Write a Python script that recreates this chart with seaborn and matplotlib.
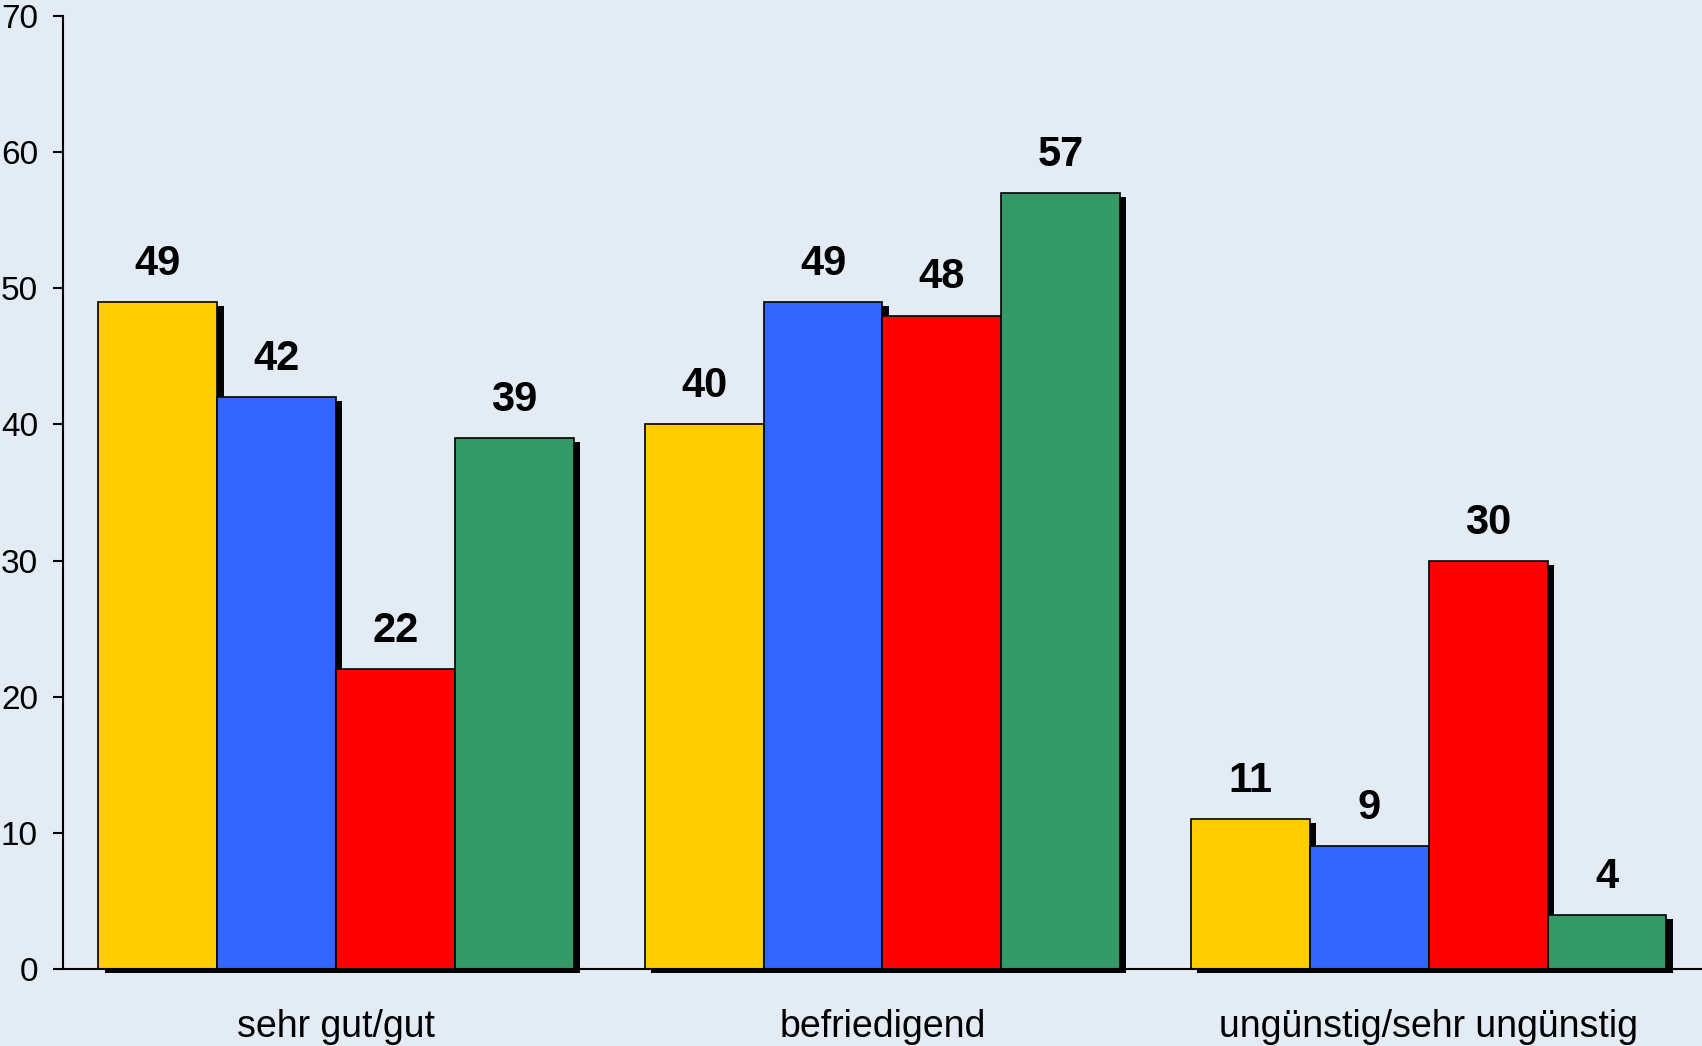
import pandas as pd
import seaborn as sns
import matplotlib.pyplot as plt
import matplotlib.patheffects as pe

categories = ["sehr gut/gut", "befriedigend", "ungünstig/sehr ungünstig"]
series = ["Gruppe 1", "Gruppe 2", "Gruppe 3", "Gruppe 4"]
values = {
    "Gruppe 1": [49, 40, 11],
    "Gruppe 2": [42, 49, 9],
    "Gruppe 3": [22, 48, 30],
    "Gruppe 4": [39, 57, 4],
}
colors = ["#FFCC00", "#3366FF", "#FF0000", "#339966"]
yticks = [0, 10, 20, 30, 40, 50, 60, 70]

rows = []
for s in series:
    for c, v in zip(categories, values[s]):
        rows.append({"Kategorie": c, "Serie": s, "Wert": v})
df = pd.DataFrame(rows)

sns.set_style("white")
plt.rcParams['font.family'] = ['Liberation Sans', 'DejaVu Sans']
plt.rcParams['text.color'] = 'black'
plt.rcParams['xtick.color'] = 'black'
plt.rcParams['ytick.color'] = 'black'
plt.rcParams['axes.edgecolor'] = 'black'

bg = "#E3EBF4"
fig = plt.figure(figsize=(17.02, 10.46), dpi=100, facecolor=bg)
ax = fig.add_axes([0.037, 0.0736, 0.963, 0.9111])
ax.set_facecolor(bg)

sns.barplot(data=df, x="Kategorie", y="Wert", hue="Serie", palette=colors,
            width=0.87, gap=0, edgecolor="black", linewidth=1.2,
            saturation=1, legend=False, ax=ax)

shadow = [pe.SimplePatchShadow(offset=(4.5, -3), shadow_rgbFace="black", alpha=1), pe.Normal()]
for p in ax.patches:
    p.set_clip_on(False)
    p.set_path_effects(shadow)

for cont in ax.containers:
    ax.bar_label(cont, padding=13, fontsize=30, fontweight="bold", color="black")

ax.set_ylim(0, 70)
ax.set_xlim(-0.5, 2.5)
ax.set_yticks(yticks)
ax.set_xlabel("")
ax.set_ylabel("")
ax.tick_params(axis="y", length=7, width=1.5, pad=11, labelsize=24, direction="out", left=True)
ax.tick_params(axis="x", length=0, pad=29, labelsize=27)
for side in ["top", "right"]:
    ax.spines[side].set_visible(False)
ax.spines["left"].set_linewidth(1.5)
ax.spines["bottom"].set_linewidth(1.5)

fig.savefig("out.png", dpi=100, facecolor=bg)
